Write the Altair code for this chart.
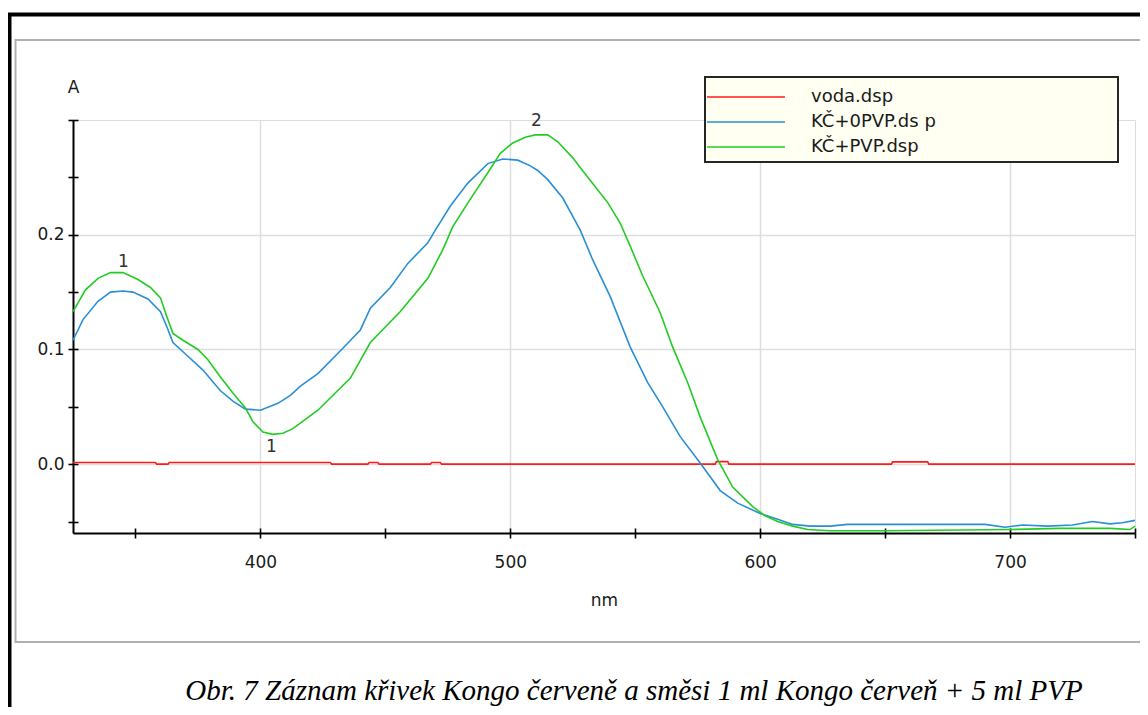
import altair as alt
import pandas as pd

# ---------------- data ----------------
series_names = ["voda.dsp", "KČ+0PVP.ds p", "KČ+PVP.dsp"]
series_colors = ["#ff1a1a", "#2a8fd4", "#22cc22"]

voda_nm = [325, 358, 358.5, 363, 363.5, 428, 428.5, 443, 443.5, 447, 447.5, 468, 468.5,
           472, 472.5, 582, 582.5, 587, 587.5, 652.5, 653, 667, 667.5, 750]
voda_a = [0.0015, 0.0015, 0.0, 0.0, 0.0015, 0.0015, 0.0, 0.0, 0.0015, 0.0015, 0.0, 0.0, 0.0015,
          0.0015, 0.0, 0.0, 0.0022, 0.0022, 0.0, 0.0, 0.002, 0.002, 0.0, 0.0]

kc0_nm = [325, 329, 335, 340, 345, 349, 355, 360, 362.5, 365, 370, 377, 384, 389, 394, 400,
          407, 412, 416, 423, 433, 440, 444, 452, 459, 467, 470, 476, 483, 491, 497, 503,
          508, 511, 515, 521, 528, 533, 540, 548, 555, 561, 568, 576, 584, 591, 600, 607,
          613, 620, 628, 635, 660, 680, 690, 698, 705, 715, 725, 733, 740, 745, 750]
kc0_a = [0.108, 0.126, 0.142, 0.150, 0.151, 0.150, 0.144, 0.133, 0.120, 0.106, 0.096, 0.082,
         0.064, 0.055, 0.048, 0.047, 0.053, 0.060, 0.068, 0.079, 0.101, 0.117, 0.136, 0.154,
         0.175, 0.193, 0.204, 0.225, 0.245, 0.262, 0.266, 0.265, 0.260, 0.256, 0.248, 0.232,
         0.204, 0.178, 0.146, 0.102, 0.071, 0.050, 0.024, 0.001, -0.023, -0.034, -0.043,
         -0.048, -0.0525, -0.054, -0.054, -0.0525, -0.0525, -0.0525, -0.0525, -0.055, -0.053,
         -0.054, -0.053, -0.050, -0.052, -0.051, -0.049]

kcp_nm = [325, 330, 335, 340, 345, 351, 356, 360, 362.5, 365, 369, 375, 379, 384, 389, 394,
          397, 401, 405, 409, 413, 423, 436, 444, 456, 467, 473, 477, 484, 491, 496, 501,
          506, 510, 515, 519, 525, 531, 539, 544, 548, 553, 560, 565, 571, 576, 583, 589,
          597, 602, 607, 613, 619, 628, 650, 700, 720, 740, 748, 750]
kcp_a = [0.133, 0.152, 0.162, 0.167, 0.167, 0.161, 0.154, 0.145, 0.129, 0.114, 0.108, 0.100,
         0.091, 0.076, 0.062, 0.049, 0.037, 0.028, 0.026, 0.027, 0.031, 0.047, 0.075, 0.106,
         0.133, 0.162, 0.187, 0.207, 0.231, 0.254, 0.271, 0.280, 0.285, 0.287, 0.287, 0.281,
         0.267, 0.250, 0.228, 0.210, 0.190, 0.164, 0.132, 0.102, 0.071, 0.041, 0.004, -0.020,
         -0.037, -0.045, -0.050, -0.054, -0.057, -0.058, -0.058, -0.057, -0.056, -0.056,
         -0.057, -0.054]

ann_nm = [345.2, 404.4, 510.4]
ann_a = [0.176, 0.015, 0.299]
ann_text = ["1", "1", "2"]

x_labels = [400, 500, 600, 700]
x_ticks = [350, 400, 450, 500, 550, 600, 650, 700, 750]
y_labels = [0.0, 0.1, 0.2]
y_ticks = [-0.05, 0.0, 0.05, 0.1, 0.15, 0.2, 0.25, 0.3]

caption = ["Obr. 7 Záznam křivek Kongo červeně a směsi 1 ml Kongo červeň + 5 ml PVP"]

# ---------------- tables ----------------
lines_df = pd.concat([
    pd.DataFrame({"nm": voda_nm, "A": voda_a, "series": series_names[0]}),
    pd.DataFrame({"nm": kc0_nm, "A": kc0_a, "series": series_names[1]}),
    pd.DataFrame({"nm": kcp_nm, "A": kcp_a, "series": series_names[2]}),
], ignore_index=True)
ann_df = pd.DataFrame({"nm": ann_nm, "A": ann_a, "t": ann_text})
cap_df = pd.DataFrame({"c": caption})
one = pd.DataFrame({"k": [0]})

FONT = "DejaVu Sans"
xscale = alt.Scale(domain=[325, 750], nice=False, zero=False)
yscale = alt.Scale(domain=[-0.06, 0.30], nice=False, zero=False)

# decoration frames (no fill, so axes stay visible)
outer = alt.Chart(one).mark_rect(fillOpacity=0, stroke="black", strokeWidth=4).encode(
    x=alt.value(-63.5), x2=alt.value(1100), y=alt.value(-105.5), y2=alt.value(600))
inner = alt.Chart(one).mark_rect(fillOpacity=0, stroke="#b0b0b0", strokeWidth=2).encode(
    x=alt.value(-57.5), x2=alt.value(1090), y=alt.value(-80), y2=alt.value(522))

lines = alt.Chart(lines_df).mark_line(strokeWidth=1.6).encode(
    x=alt.X("nm:Q", scale=xscale, axis=alt.Axis(
        orient="bottom", values=x_labels, format="d", ticks=False, tickSize=0, labelPadding=21,
        labelFont=FONT, labelFontSize=17, labelColor="#1a1a1a",
        domainColor="black", domainWidth=2,
        grid=True, gridColor="#dedede", gridWidth=1.5,
        title="nm", titleFont=FONT, titleFontSize=17, titleFontWeight="normal",
        titleColor="#1a1a1a", titleY=67, titleBaseline="middle")),
    y=alt.Y("A:Q", scale=yscale, axis=alt.Axis(
        orient="left", values=y_labels, format=".1f", ticks=False, tickSize=0, labelPadding=9,
        labelFont=FONT, labelFontSize=17, labelColor="#1a1a1a",
        domainColor="black", domainWidth=2,
        grid=True, gridColor="#dedede", gridWidth=1.5,
        title="A", titleFont=FONT, titleFontSize=17, titleFontWeight="normal",
        titleColor="#1a1a1a", titleAngle=0, titleX=0, titleY=-33,
        titleAlign="center", titleBaseline="middle")),
    color=alt.Color("series:N", sort=series_names,
                    scale=alt.Scale(domain=series_names, range=series_colors),
                    legend=alt.Legend(
                        title=None, orient="none", legendX=633, legendY=-35.5,
                        symbolType="stroke", symbolSize=6084, symbolStrokeWidth=1.6,
                        clipHeight=25, rowPadding=0, labelOffset=25, padding=0,
                        labelFont=FONT, labelFontSize=18, labelColor="#1a1a1a",
                        labelLimit=400)),
    detail="series:N",
)

legend_box = alt.Chart(one).mark_rect(fill="#fffff2", stroke="#262626", strokeWidth=2).encode(
    x=alt.value(632), x2=alt.value(1045), y=alt.value(-43), y2=alt.value(42))

ann = alt.Chart(ann_df).mark_text(font=FONT, fontSize=17, color="#333333", baseline="middle").encode(
    x=alt.X("nm:Q", scale=xscale, axis=alt.Axis(
        orient="bottom", values=x_ticks, labels=False, domain=False, grid=False, ticks=True,
        tickSize=10, tickColor="black", tickWidth=1.6, offset=-5, title=None)),
    y=alt.Y("A:Q", scale=yscale, axis=alt.Axis(
        orient="left", values=y_ticks, labels=False, domain=False, grid=False, ticks=True,
        tickSize=10, tickColor="black", tickWidth=1.6, offset=-5, title=None)),
    text="t:N",
)

cap = alt.Chart(cap_df).mark_text(font="Liberation Serif", fontStyle="italic", fontSize=29,
                                  color="black", align="center", baseline="alphabetic").encode(
    x=alt.value(561), y=alt.value(580), text="c:N")

chart = alt.layer(outer, inner, legend_box, lines, ann, cap).resolve_axis(
    x="independent", y="independent"
).properties(
    width=1062, height=413,
    padding={"left": 65, "top": 112, "right": 5, "bottom": 174},
    autosize=alt.AutoSizeParams(type="none"),
).configure_view(strokeWidth=0).configure(background="white")

chart.save("out.html", embed_options={"renderer": "svg", "actions": False})
